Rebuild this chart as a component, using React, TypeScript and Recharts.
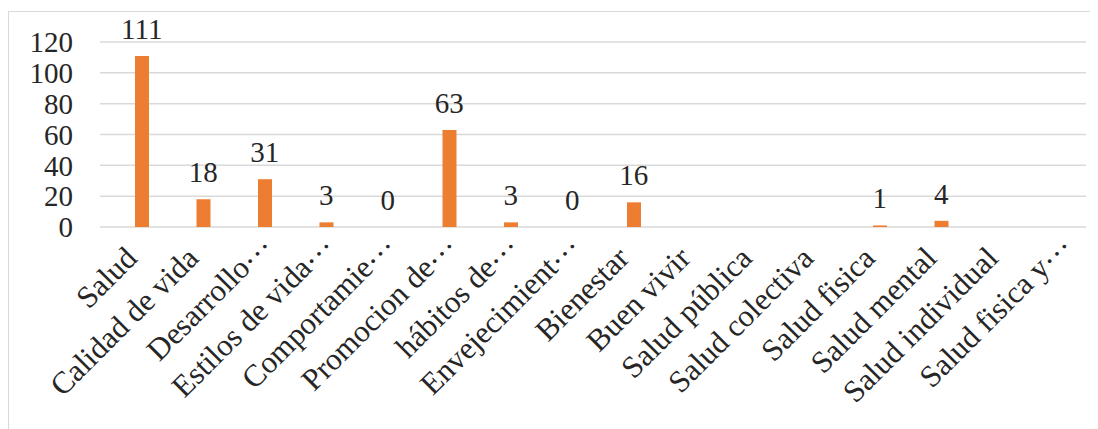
import React from "react";
import { ComposedChart, Bar, Line, XAxis, YAxis, CartesianGrid } from "recharts";

const categories: string[] = [
  "Salud",
  "Calidad de vida",
  "Desarrollo…",
  "Estilos de vida…",
  "Comportamie…",
  "Promocion de…",
  "hábitos de…",
  "Envejecimient…",
  "Bienestar",
  "Buen vivir",
  "Salud pública",
  "Salud colectiva",
  "Salud fisica",
  "Salud mental",
  "Salud individual",
  "Salud fisica y…",
];

const values: (number | null)[] = [111, 18, 31, 3, 0, 63, 3, 0, 16, null, null, null, 1, 4, null, null];

const yTicks: number[] = [0, 20, 40, 60, 80, 100, 120];

const data = categories.map((name, i) => ({ name, value: values[i] }));

const FONT = '"Liberation Serif", "Times New Roman", serif';
const TEXT = "#262626";

const CategoryTick = (props: any) => {
  const { x, y, payload } = props;
  const label: string = String(payload.value);
  const truncated = label.endsWith("…");
  const shift = truncated ? 12 : 0;
  return (
    <g transform={`translate(${x - 3 + shift},${y + 25 - shift})`}>
      <text x={0} y={0} textAnchor="end" transform="rotate(-45)" fontFamily={FONT} fontSize={31} fill={TEXT}>
        {truncated ? (
          <>
            {label.slice(0, -1)}
            <tspan dy={-6}>…</tspan>
          </>
        ) : (
          label
        )}
      </text>
    </g>
  );
};

const GridLine = (props: any) => {
  const { x1, x2, y1, y2 } = props;
  return <line x1={x1} x2={x2 - 9} y1={y1} y2={y2} stroke="#d9d9d9" strokeWidth={1.5} />;
};

const ValueLabel = (props: any) => {
  const { x, y, value } = props;
  if (value === null || value === undefined || y === null || y === undefined) return null;
  return (
    <text x={x} y={y - 17} textAnchor="middle" fontFamily={FONT} fontSize={29} fill={TEXT}>
      {value}
    </text>
  );
};

export default function App() {
  return (
    <div style={{ position: "relative", width: 1090, height: 421 }}>
      <div
        style={{
          position: "absolute",
          left: 0,
          top: 3,
          width: 1090,
          height: 418,
          borderTop: "1.5px solid #d9d9d9",
          borderLeft: "1.5px solid #d9d9d9",
          boxSizing: "border-box",
        }}
      />
      <ComposedChart
        width={1090}
        height={421}
        data={data}
        margin={{ top: 34, right: 3, left: 12, bottom: 12 }}
        style={{ position: "absolute", left: 0, top: 0 }}
      >
        <CartesianGrid vertical={false} horizontal={(p: any) => <GridLine key={p.key} {...p} />} />
        <XAxis
          dataKey="name"
          interval={0}
          axisLine={false}
          tickLine={false}
          height={190}
          padding={{ left: 11, right: 0 }}
          tick={<CategoryTick />}
        />
        <YAxis
          domain={[0, 120]}
          ticks={yTicks}
          interval={0}
          width={80}
          axisLine={false}
          tickLine={false}
          tickSize={0}
          tickMargin={27}
          tick={{ fontFamily: FONT, fontSize: 29, fill: TEXT }}
        />
        <Bar dataKey="value" fill="#ED7D31" barSize={14} isAnimationActive={false} />
        <Line
          dataKey="value"
          stroke="none"
          dot={false}
          activeDot={false}
          legendType="none"
          isAnimationActive={false}
          label={<ValueLabel />}
        />
      </ComposedChart>
    </div>
  );
}
